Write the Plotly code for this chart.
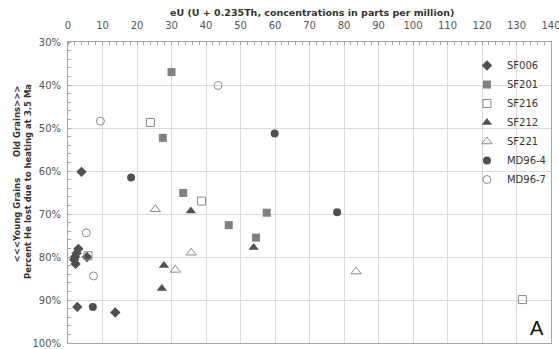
import plotly.graph_objects as go

# ---- data (eU ppm, percent He lost) ----
sf006_x = [3.9, 3.0, 2.5, 2.0, 1.75, 2.2, 5.5, 2.7, 13.7]
sf006_y = [60.2, 78.1, 79.1, 80.0, 80.6, 81.6, 80.0, 91.6, 92.9]

sf201_x = [30.0, 27.5, 33.4, 57.6, 46.6, 54.5]
sf201_y = [37.0, 52.3, 65.1, 69.7, 72.6, 75.5]

sf216_x = [23.9, 38.7, 5.8, 131.7]
sf216_y = [48.7, 67.0, 79.7, 89.9]

sf212_x = [35.6, 27.8, 27.2, 53.8]
sf212_y = [69.3, 82.0, 87.3, 77.8]

sf221_x = [25.3, 35.7, 31.1, 83.5]
sf221_y = [68.9, 79.0, 83.0, 83.4]

md964_x = [59.9, 18.3, 78.0, 7.2]
md964_y = [51.3, 61.5, 69.6, 91.6]

md967_x = [9.4, 43.5, 5.3, 7.4]
md967_y = [48.4, 40.1, 74.4, 84.4]

x_ticks = list(range(0, 141, 10))
y_ticks = list(range(30, 101, 10))

FONT = "Verdana, DejaVu Sans, sans-serif"

series = [
    ("SF006", sf006_x, sf006_y, dict(symbol="diamond", size=8, color="#505050", line=dict(width=0))),
    ("SF201", sf201_x, sf201_y, dict(symbol="square", size=8, color="#808080", line=dict(width=0))),
    ("SF216", sf216_x, sf216_y, dict(symbol="square-open", size=8, color="#8c8c8c", line=dict(width=1))),
    ("SF212", sf212_x, sf212_y, dict(symbol="triangle-up", size=9, color="#505050", line=dict(width=0))),
    ("SF221", sf221_x, sf221_y, dict(symbol="triangle-up-open", size=9, color="#8c8c8c", line=dict(width=1))),
    ("MD96-4", md964_x, md964_y, dict(symbol="circle", size=8, color="#505050", line=dict(width=0))),
    ("MD96-7", md967_x, md967_y, dict(symbol="circle-open", size=8, color="#8c8c8c", line=dict(width=1))),
]

fig = go.Figure()
for name, xs, ys, mk in series:
    fig.add_trace(go.Scatter(x=xs, y=ys, mode="markers", name=name, marker=mk, cliponaxis=False))

fig.update_layout(
    template="none",
    width=559, height=349,
    margin=dict(l=68, r=8, t=42, b=6, autoexpand=False),
    paper_bgcolor="white", plot_bgcolor="white",
    font=dict(family=FONT, size=10, color="#555555"),
    showlegend=True,
    legend=dict(x=0.826, y=0.97, xanchor="left", yanchor="top",
                bgcolor="rgba(0,0,0,0)", borderwidth=0,
                font=dict(family=FONT, size=10, color="#333333"),
                tracegroupgap=0),
)

fig.update_xaxes(
    side="top", range=[0, 140], tickmode="array", tickvals=x_ticks,
    ticktext=[str(v) for v in x_ticks], ticklabeloverflow="allow",
    showgrid=True, gridcolor="#d9d9d9", gridwidth=1,
    showline=True, linecolor="#a6a6a6", linewidth=1, mirror=True,
    ticks="", zeroline=False, automargin=False, ticklabelstandoff=8,
    minor=dict(dtick=2, ticks="inside", ticklen=3, tickcolor="#a6a6a6"),
    tickfont=dict(family=FONT, size=10, color="#555555"),
)
fig.update_yaxes(
    range=[100, 30], tickmode="array", tickvals=y_ticks,
    ticktext=[f"{v}%" for v in y_ticks], ticklabeloverflow="allow",
    showgrid=True, gridcolor="#d9d9d9", gridwidth=1,
    showline=True, linecolor="#a6a6a6", linewidth=1, mirror=True,
    ticks="", zeroline=False, automargin=False, ticklabelstandoff=4,
    minor=dict(dtick=2, ticks="inside", ticklen=3, tickcolor="#a6a6a6"),
    tickfont=dict(family=FONT, size=10, color="#555555"),
)

fig.add_annotation(
    xref="paper", yref="paper", x=0.505, y=1, yshift=30,
    text="<b>eU (U + 0.235Th, concentrations in parts per million)</b>",
    showarrow=False, font=dict(family=FONT, size=9.5, color="#333333"),
    xanchor="center", yanchor="middle",
)
fig.add_annotation(
    xref="paper", yref="paper", x=0, y=0.56, xshift=-51,
    text="<b>&lt;&lt;&lt;Young Grains&nbsp;&nbsp;&nbsp;&nbsp;&nbsp;&nbsp;&nbsp;Old Grains&gt;&gt;&gt;</b>",
    textangle=-90, showarrow=False, font=dict(family=FONT, size=8.5, color="#333333"),
    xanchor="center", yanchor="middle",
)
fig.add_annotation(
    xref="paper", yref="paper", x=0, y=0.535, xshift=-40,
    text="<b>Percent He lost due to heating at 3.5 Ma</b>",
    textangle=-90, showarrow=False, font=dict(family=FONT, size=8.5, color="#333333"),
    xanchor="center", yanchor="middle",
)
fig.add_annotation(
    xref="paper", yref="paper", x=1, xshift=-5, y=0.05, text="A", showarrow=False,
    xanchor="right", yanchor="middle",
    font=dict(family="Liberation Sans, Arial, sans-serif", size=20, color="#111111"),
)

fig.write_html(
    "out.html",
    config={"displayModeBar": False},
    post_script="document.body.style.margin='0';document.body.style.overflow='hidden';",
)
